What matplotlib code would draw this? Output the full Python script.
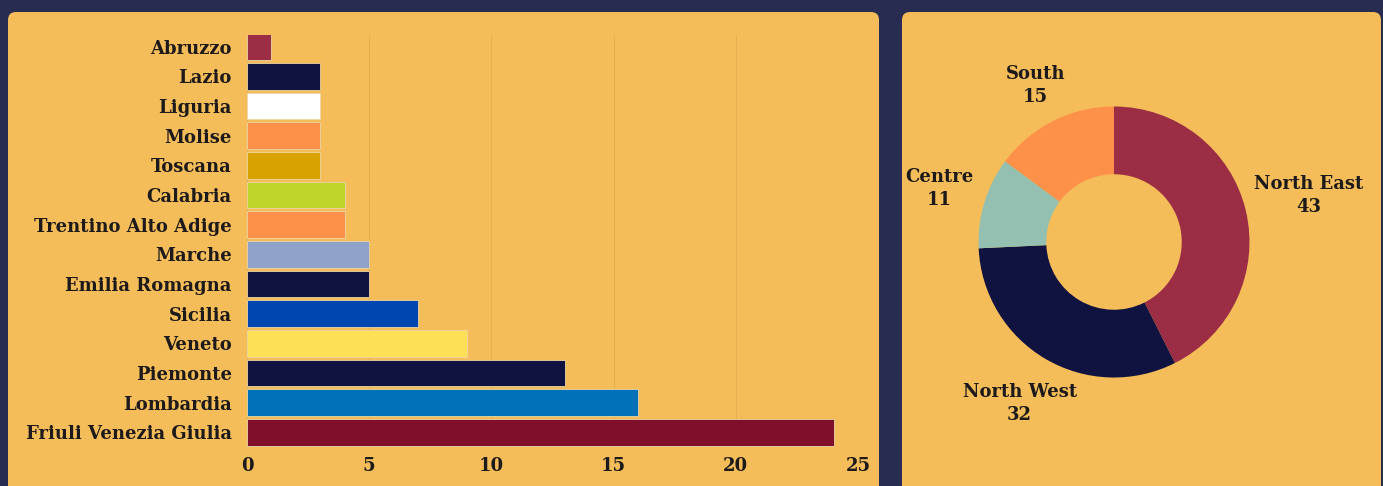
import numpy as np
import matplotlib.pyplot as plt
from matplotlib.patches import FancyBboxPatch

# data
regions = ['Abruzzo', 'Lazio', 'Liguria', 'Molise', 'Toscana', 'Calabria',
           'Trentino Alto Adige', 'Marche', 'Emilia Romagna', 'Sicilia',
           'Veneto', 'Piemonte', 'Lombardia', 'Friuli Venezia Giulia']
counts = [1, 3, 3, 3, 3, 4, 4, 5, 5, 7, 9, 13, 16, 24]
bar_colors = ['#9b2d45', '#10123f', '#ffffff', '#fe914a', '#d8a300', '#bfd42a',
              '#fe914a', '#8fa3c9', '#10123f', '#0046b0', '#fde055', '#10123f',
              '#0070b8', '#800f2c']

areas = ['North East', 'North West', 'Centre', 'South']
area_counts = [43, 32, 11, 15]
area_colors = ['#9b2d45', '#10123f', '#93c0b0', '#fe914a']

W, H = 1383, 486
panel = '#f5bd5a'
ink = '#1c1a1a'
font = dict(family='DejaVu Serif', weight='bold', color=ink)

fig = plt.figure(figsize=(W / 100, H / 100), dpi=100)
fig.patch.set_facecolor('#292c51')

# rounded panels
for x0, x1 in [(8, 879), (902, 1381)]:
    fig.patches.append(FancyBboxPatch((x0 / W, -0.1), (x1 - x0) / W, (H - 12) / H + 0.1,
                                      boxstyle='round,pad=0,rounding_size=%f' % (8 / W),
                                      mutation_aspect=W / H,
                                      transform=fig.transFigure, facecolor=panel,
                                      edgecolor='none', zorder=-5))

# bar chart
ax = fig.add_axes([247 / W, 1 - 447 / H, (858 - 247) / W, (447 - 35) / H])
ax.set_facecolor('none')
ypos = list(range(len(regions)))
ax.barh(ypos, counts, height=0.9, color=bar_colors, edgecolor='#ead6a6', linewidth=0.6, zorder=3)
ax.set_xlim(0, 25)
ax.set_ylim(13.5, -0.4)
ax.set_xticks([0, 5, 10, 15, 20, 25])
ax.set_yticks(ypos)
ax.set_yticklabels(regions)
ax.grid(axis='x', color='#e6ae52', linewidth=0.8, zorder=0)
for s in ax.spines.values():
    s.set_visible(False)
ax.tick_params(axis='x', length=0, pad=7)
ax.tick_params(axis='y', length=0, pad=11)
for lab in ax.get_xticklabels() + ax.get_yticklabels():
    lab.set(**font, fontsize=13)

# donut
cx, cy, R = 1114, 242, 135.5
half = 230
ax2 = fig.add_axes([(cx - half) / W, (H - cy - half) / H, 2 * half / W, 2 * half / H])
ax2.set_facecolor('none')
wedges, _ = ax2.pie(area_counts, colors=area_colors, startangle=90, counterclock=False,
                    radius=1, wedgeprops=dict(width=0.5, linewidth=0))
label_dist = [1.48, 1.38, 1.35, 1.29]
for w, name, v, d in zip(wedges, areas, area_counts, label_dist):
    mid = np.deg2rad((w.theta1 + w.theta2) / 2)
    ax2.text(d * np.cos(mid), d * np.sin(mid), f'{name}\n{v}', ha='center', va='center',
             linespacing=1.35, fontsize=13, **font)
ax2.set_xlim(-half / R, half / R)
ax2.set_ylim(-half / R, half / R)
ax2.set_aspect('equal')
ax2.axis('off')

fig.savefig('out.png', dpi=100, facecolor=fig.get_facecolor())
